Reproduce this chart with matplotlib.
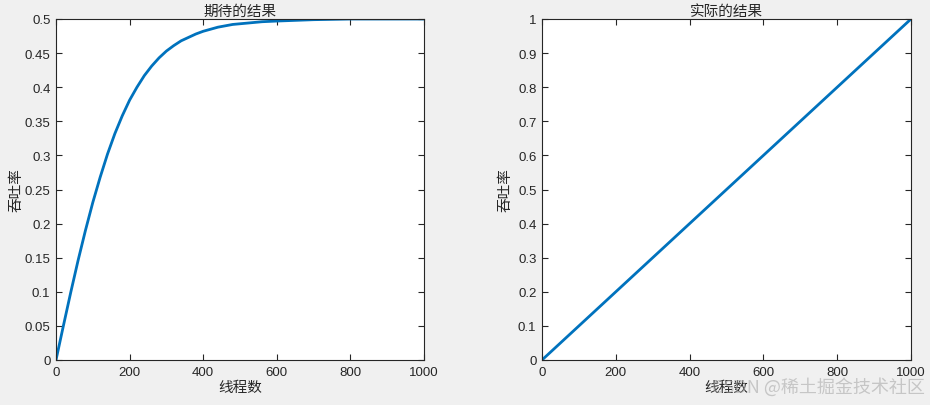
import matplotlib
matplotlib.use('Agg')
from matplotlib import pyplot as plt
from matplotlib.ticker import FuncFormatter

plt.rcParams['font.family'] = ['Liberation Sans', 'Noto Sans CJK SC', 'DejaVu Sans']

# 期待的结果: values
threads_expect = [0, 20, 40, 60, 80, 100, 120, 140, 160, 180, 200, 220, 240,
                  260, 280, 300, 320, 340, 360, 380, 400, 440, 480, 520, 560,
                  600, 700, 800, 900, 1000]
rate_expect = [0.0, 0.050, 0.099, 0.146, 0.190, 0.231, 0.268, 0.302, 0.332,
               0.358, 0.381, 0.400, 0.417, 0.431, 0.443, 0.453, 0.461, 0.468,
               0.473, 0.478, 0.482, 0.488, 0.492, 0.494, 0.496, 0.497, 0.499,
               0.500, 0.500, 0.500]

# 实际的结果: straight line
threads_actual = [0, 1000]
rate_actual = [0.0, 1.0]

x_ticks = [0, 200, 400, 600, 800, 1000]
y_ticks_left = [0, 0.05, 0.1, 0.15, 0.2, 0.25, 0.3, 0.35, 0.4, 0.45, 0.5]
y_ticks_right = [0, 0.1, 0.2, 0.3, 0.4, 0.5, 0.6, 0.7, 0.8, 0.9, 1]

line_color = '#0072BD'
text_color = '#262626'
cjk = ['Noto Sans CJK SC', 'DejaVu Sans']

fig = plt.figure(figsize=(9.3, 4.06), dpi=100, facecolor='#f0f0f0')
ax1 = fig.add_axes([56 / 930, 45 / 406, 368 / 930, 341 / 406])
ax2 = fig.add_axes([542 / 930, 45 / 406, 369 / 930, 341 / 406])


def fmt(v, pos):
    return '%g' % round(v, 4)


def style(ax, yticks, ymax, title, ypad):
    ax.set_xlim(0, 1000)
    ax.set_ylim(0, ymax)
    ax.set_xticks(x_ticks)
    ax.set_yticks(yticks)
    ax.xaxis.set_major_formatter(FuncFormatter(fmt))
    ax.yaxis.set_major_formatter(FuncFormatter(fmt))
    ax.tick_params(direction='in', length=4, width=0.8, top=True, right=True,
                   labelsize=9.5, colors=text_color, pad=4)
    for s in ax.spines.values():
        s.set_color(text_color)
        s.set_linewidth(0.8)
    ax.set_title(title, family=cjk, fontsize=10.5, color=text_color, pad=3)
    ax.set_xlabel('线程数', family=cjk, fontsize=10.5, color=text_color, labelpad=2)
    ax.set_ylabel('吞吐率', family=cjk, fontsize=10.5, color=text_color, labelpad=ypad)


ax1.plot(threads_expect, rate_expect, color=line_color, linewidth=2)
style(ax1, y_ticks_left, 0.5, '期待的结果', 1)

ax2.plot(threads_actual, rate_actual, color=line_color, linewidth=2)
style(ax2, y_ticks_right, 1, '实际的结果', 4)

fig.text(925 / 930, 0.022, 'CSDN @稀土掘金技术社区', family=cjk, fontsize=13,
         color='#aaaaaa', alpha=0.6, ha='right', va='bottom')

fig.savefig('out.png', dpi=100, facecolor=fig.get_facecolor())
